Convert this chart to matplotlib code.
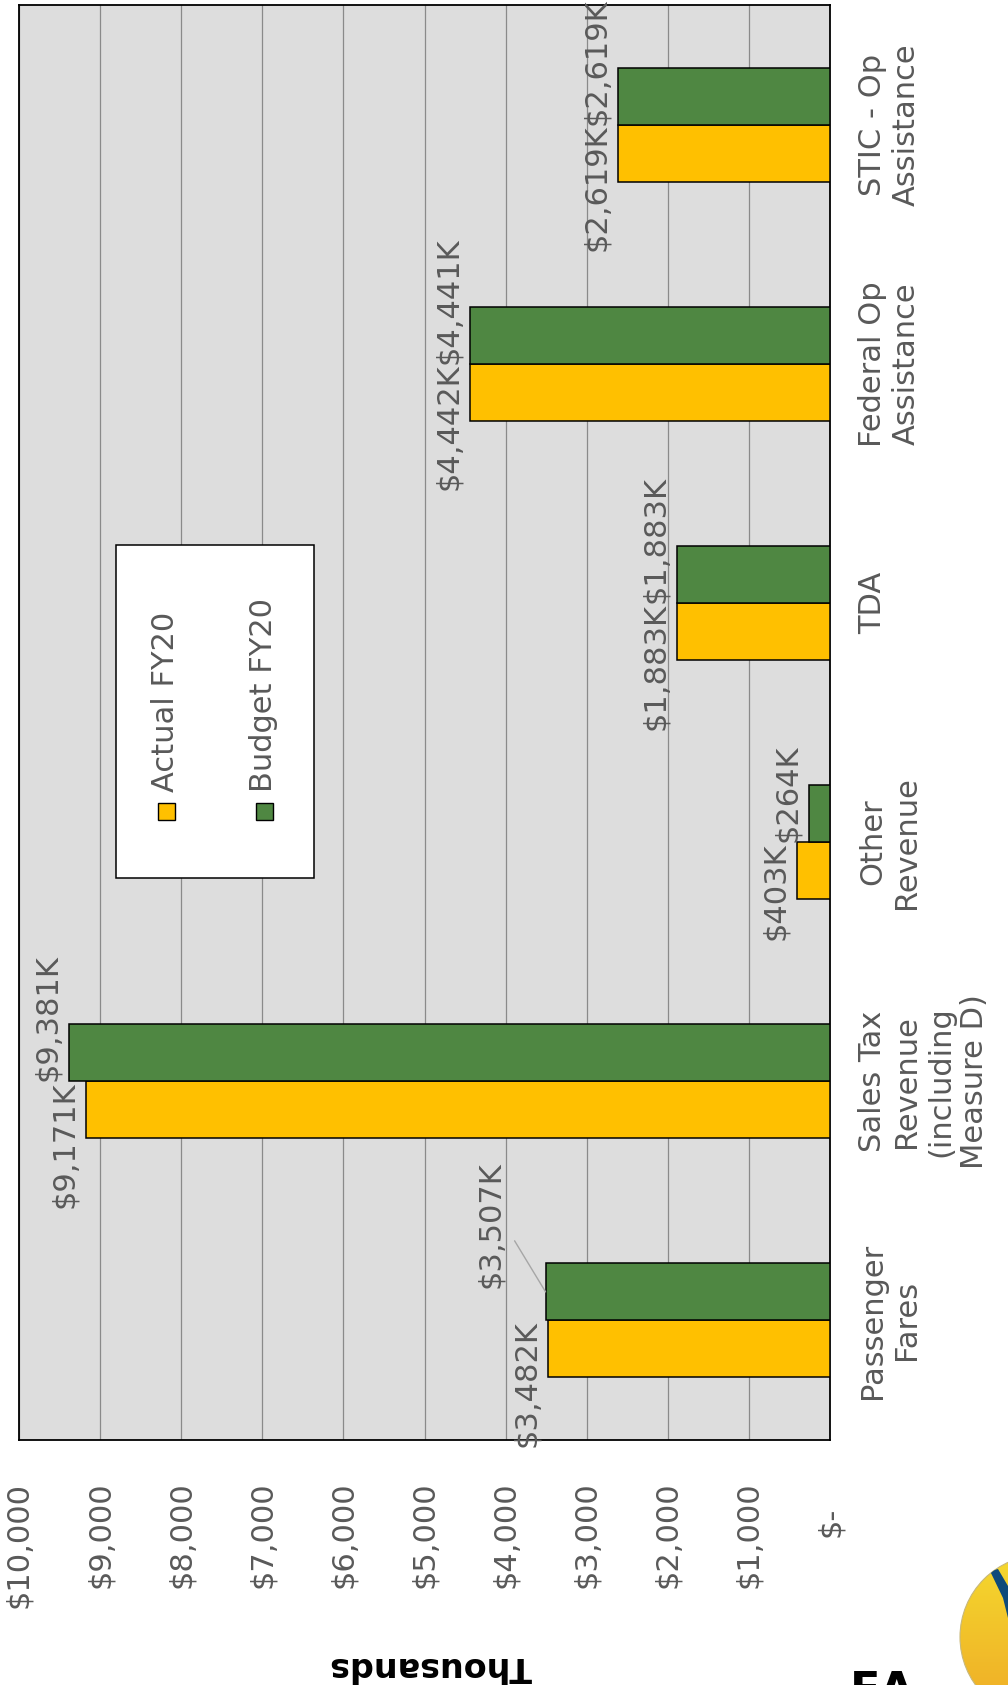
"""Actual vs budget FY20 revenue by source (rotated page layout)."""

import matplotlib.pyplot as plt
import numpy as np
from matplotlib.colors import LinearSegmentedColormap
from matplotlib.patches import Circle, Polygon, Rectangle

CATEGORIES = [
    "Passenger\nFares",
    "Sales Tax\nRevenue\n(including\nMeasure D)",
    "Other\nRevenue",
    "TDA",
    "Federal Op\nAssistance",
    "STIC - Op\nAssistance",
]
SERIES = ["Actual FY20", "Budget FY20"]
ACTUAL = [3482, 9171, 403, 1883, 4442, 2619]
BUDGET = [3507, 9381, 264, 1883, 4441, 2619]
TICK_VALUES = [0, 1000, 2000, 3000, 4000, 5000, 6000, 7000, 8000, 9000, 10000]
TICK_LABELS = ["$-", "$1,000", "$2,000", "$3,000", "$4,000", "$5,000",
               "$6,000", "$7,000", "$8,000", "$9,000", "$10,000"]
AXIS_TITLE = "Thousands"

YELLOW = "#FFC000"
GREEN = "#4F8742"
GREY_TEXT = "#595959"

W, H = 1008, 1685


def fx(px):
    return px / W


def fy(py):
    return 1 - py / H


def main():
    plt.rcParams.update({"font.family": "DejaVu Sans", "font.size": 22})
    fig = plt.figure(figsize=(W / 100, H / 100), dpi=100)
    ax = fig.add_axes([fx(19), fy(1440), fx(830) - fx(19), fy(5) - fy(1440)])

    bh = 0.2385
    y = np.arange(len(CATEGORIES))
    ax.barh(y - bh / 2, ACTUAL, height=bh, color=YELLOW, edgecolor="black",
            linewidth=1.1, zorder=3)
    ax.barh(y + bh / 2, BUDGET, height=bh, color=GREEN, edgecolor="black",
            linewidth=1.1, zorder=3)

    ax.set_xlim(10000, 0)
    ax.set_ylim(-0.5, len(CATEGORIES) - 0.5)
    ax.set_facecolor("#DDDDDD")
    ax.set_xticks(TICK_VALUES)
    ax.set_yticks([])
    ax.grid(axis="x", color="#8A8A8A", linewidth=0.9)
    ax.set_axisbelow(True)
    ax.tick_params(length=0, labelbottom=False, labelleft=False)
    for sp in ax.spines.values():
        sp.set_linewidth(1.3)
        sp.set_color("black")

    # data labels: actual below the pair centre, budget above it
    for i, (a, b) in enumerate(zip(ACTUAL, BUDGET)):
        ax.annotate(f"${a:,}K", (a, i), xytext=(-5, 0), textcoords="offset points",
                    rotation=90, ha="right", va="top", color=GREY_TEXT, zorder=4)
        if i == 0:
            # this one was pushed aside, with a leader line back to the bar
            ax.annotate(f"${b:,}K", (b, i + bh / 2), xytext=(-29.5, 3),
                        textcoords="offset points", rotation=90, ha="right",
                        va="bottom", color=GREY_TEXT, zorder=4,
                        arrowprops=dict(arrowstyle="-", color="#A6A6A6", lw=1,
                                        relpos=(1, 0.5), shrinkA=10, shrinkB=0))
        else:
            ax.annotate(f"${b:,}K", (b, i), xytext=(-5, 0), textcoords="offset points",
                        rotation=90, ha="right", va="bottom", color=GREY_TEXT, zorder=4)

    # category labels on the right
    for i, cat in enumerate(CATEGORIES):
        ax.annotate(cat, (1, i), xycoords=ax.get_yaxis_transform(), xytext=(20, 0),
                    textcoords="offset points", rotation=90, ha="left", va="center",
                    multialignment="center", linespacing=1.22, color=GREY_TEXT)

    # value tick labels at the bottom
    for v, lbl in zip(TICK_VALUES, TICK_LABELS):
        off = -48 if lbl == "$-" else -30
        ax.annotate(lbl, (v, 0), xycoords=ax.get_xaxis_transform(), xytext=(0, off),
                    textcoords="offset points", rotation=90, ha="center", va="top",
                    color=GREY_TEXT, annotation_clip=False)

    fig.text(fx(430), fy(1666), AXIS_TITLE, rotation=180, ha="center", va="center",
             fontsize=24, fontweight="bold", color="black")

    # legend box
    fig.add_artist(Rectangle((fx(116), fy(878)), fx(314) - fx(116), fy(545) - fy(878),
                             transform=fig.transFigure, facecolor="white",
                             edgecolor="black", linewidth=1.1, zorder=5))
    for name, col, cx in zip(SERIES, [YELLOW, GREEN], [166, 264]):
        fig.add_artist(Rectangle((fx(cx - 8), fy(820)), fx(17), 17 / H,
                                 transform=fig.transFigure, facecolor=col,
                                 edgecolor="black", linewidth=1.0, zorder=6))
        fig.text(fx(cx), fy(792), name, rotation=90, ha="center", va="bottom",
                 color=GREY_TEXT, zorder=6)

    # partial logo in the corner
    fig.text(fx(850), fy(1670), "EA", fontsize=32, fontweight="bold", ha="left",
             va="top", color="black")
    lax = fig.add_axes([fx(950), 0, fx(58), 135 / H])
    lax.set_xlim(950, 1008)
    lax.set_ylim(1685, 1550)
    lax.axis("off")
    circ = Circle((1042, 1637), 82, facecolor="none", edgecolor="#C8B87A", lw=0.8)
    lax.add_patch(circ)
    grad = np.linspace(0, 1, 64)[:, None] * np.ones((1, 16))
    cmap = LinearSegmentedColormap.from_list("lg", ["#F5DA2E", "#F0B428"])
    img = lax.imshow(grad, extent=(950, 1008, 1685, 1550), cmap=cmap,
                     aspect="auto", origin="upper")
    img.set_clip_path(circ)
    sw = Polygon([(990, 1571), (998, 1569), (1008, 1586), (1008, 1618), (1003, 1598)],
                 facecolor="#0E4A7A", edgecolor="none")
    lax.add_patch(sw)
    sw.set_clip_path(circ)

    fig.savefig("out.png", dpi=100, facecolor="white")
    plt.close(fig)


if __name__ == "__main__":
    main()
